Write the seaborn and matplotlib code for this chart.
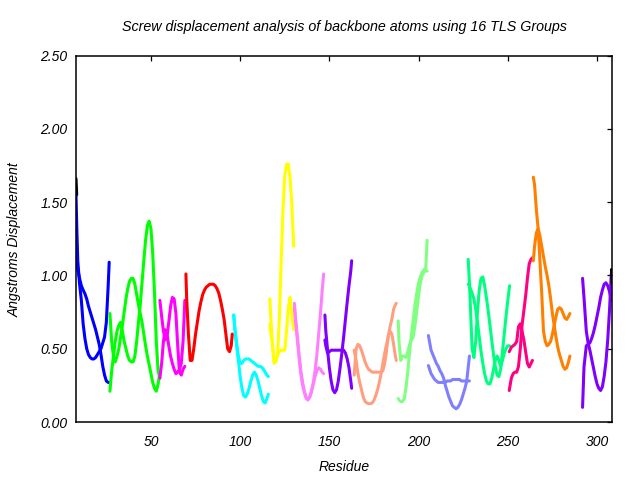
import numpy as np
import pandas as pd
import matplotlib
matplotlib.use("Agg")
import matplotlib.pyplot as plt
import seaborn as sns

# ---------------- data ----------------
title = "Screw displacement analysis of backbone atoms using 16 TLS Groups"
xlabel = "Residue"
ylabel = "Angstroms Displacement"
xticks = [50, 100, 150, 200, 250, 300]
yticks = [0.0, 0.5, 1.0, 1.5, 2.0, 2.5]

blk1_res = [8.0, 8.4]
blk1_a = [1.66, 1.55]
blk1_b = [1.17, 1.12]

blue_res = [8, 8.5, 9, 10, 11, 12, 13, 14, 15, 16, 17, 18, 19, 20, 21, 22, 23, 24, 25, 26, 26.6]
blue_a = [1.55, 1.30, 1.10, 0.94, 0.83, 0.67, 0.57, 0.50, 0.46, 0.44, 0.43, 0.43, 0.44, 0.46, 0.48, 0.50, 0.54, 0.58, 0.68, 0.92, 1.09]
blue_b = [1.15, 1.10, 1.04, 0.98, 0.93, 0.90, 0.875, 0.84, 0.79, 0.75, 0.71, 0.67, 0.63, 0.58, 0.53, 0.46, 0.38, 0.32, 0.28, 0.27, 0.27]

green_res = list(range(27, 56))
green_a = [0.74, 0.55, 0.45, 0.41, 0.45, 0.50, 0.58, 0.66, 0.75, 0.84, 0.91, 0.96, 0.98, 0.98, 0.94,
           0.87, 0.80, 0.74, 0.68, 0.60, 0.52, 0.45, 0.39, 0.33, 0.27, 0.23, 0.21, 0.26, 0.33]
green_b = [0.21, 0.35, 0.45, 0.55, 0.62, 0.66, 0.68, 0.62, 0.55, 0.50, 0.45, 0.42, 0.41, 0.41, 0.45,
           0.55, 0.68, 0.80, 0.95, 1.10, 1.24, 1.34, 1.37, 1.32, 1.15, 0.88, 0.55, 0.35, 0.30]

mag_res = [55, 56, 57, 58, 59, 60, 61, 62, 63, 64, 65, 66, 67, 68, 69]
mag_a = [0.83, 0.72, 0.62, 0.56, 0.58, 0.68, 0.79, 0.85, 0.84, 0.74, 0.52, 0.34, 0.32, 0.36, 0.38]
mag_b = [0.30, 0.40, 0.55, 0.63, 0.60, 0.52, 0.45, 0.40, 0.36, 0.33, 0.34, 0.36, 0.40, 0.55, 0.83]

red_res = [69.6] + list(range(70, 96)) + [95.6]
red_a = [1.01, 0.85, 0.60, 0.42, 0.42, 0.50, 0.60, 0.68, 0.76, 0.82, 0.87, 0.90, 0.92, 0.93, 0.94,
         0.94, 0.94, 0.93, 0.91, 0.88, 0.83, 0.77, 0.70, 0.60, 0.50, 0.48, 0.52, 0.60]

cyan_res = [96.4] + list(range(97, 116)) + [115.8]
cyan_a = [0.73, 0.64, 0.54, 0.45, 0.40, 0.40, 0.42, 0.43, 0.43, 0.43, 0.42, 0.41, 0.40, 0.39, 0.38,
          0.38, 0.375, 0.36, 0.34, 0.32, 0.31]
cyan_b = [0.73, 0.64, 0.52, 0.42, 0.31, 0.23, 0.18, 0.17, 0.19, 0.23, 0.28, 0.32, 0.34, 0.32, 0.28,
          0.23, 0.18, 0.14, 0.13, 0.16, 0.19]

yel_res = [116.7, 117, 118, 119, 120, 121, 122, 123, 124, 125, 126, 127, 128, 129, 130]
yel_a = [0.84, 0.75, 0.55, 0.42, 0.41, 0.46, 0.72, 1.10, 1.45, 1.68, 1.76, 1.76, 1.66, 1.48, 1.20]
yel_b = [0.67, 0.62, 0.54, 0.40, 0.43, 0.46, 0.48, 0.49, 0.49, 0.49, 0.62, 0.78, 0.85, 0.72, 0.63]

pink_res = [130.4, 131, 132, 133, 134, 135, 136, 137, 138, 139, 140, 141, 142, 143, 144, 145, 146, 146.8]
pink_a = [0.81, 0.72, 0.59, 0.46, 0.35, 0.27, 0.21, 0.17, 0.16, 0.17, 0.21, 0.27, 0.35, 0.46, 0.60, 0.74, 0.90, 1.01]
pink_b = [0.78, 0.69, 0.57, 0.44, 0.33, 0.25, 0.20, 0.16, 0.15, 0.17, 0.21, 0.26, 0.31, 0.35, 0.37, 0.36, 0.34, 0.33]

purp_res = [147.5, 148, 149, 150, 151, 152, 153, 154, 155, 156, 157, 158, 159, 160, 161, 162, 162.5]
purp_a = [0.73, 0.62, 0.49, 0.37, 0.28, 0.22, 0.20, 0.22, 0.28, 0.37, 0.47, 0.58, 0.70, 0.82, 0.93, 1.03, 1.10]
purp_b = [0.56, 0.52, 0.47, 0.48, 0.49, 0.49, 0.49, 0.49, 0.49, 0.49, 0.49, 0.49, 0.47, 0.43, 0.37, 0.28, 0.23]

salm_res = [163.9] + list(range(165, 188)) + [187.5]
salm_a = [0.32, 0.50, 0.53, 0.52, 0.49, 0.45, 0.41, 0.38, 0.36, 0.35, 0.34, 0.34, 0.34, 0.34, 0.34,
          0.34, 0.35, 0.40, 0.48, 0.59, 0.62, 0.60, 0.53, 0.45, 0.42]
salm_b = [0.49, 0.42, 0.33, 0.27, 0.22, 0.17, 0.14, 0.13, 0.125, 0.125, 0.13, 0.15, 0.18, 0.22, 0.27,
          0.33, 0.40, 0.47, 0.53, 0.58, 0.65, 0.70, 0.77, 0.80, 0.81]

lgrn_res = [188.6, 189, 190, 191, 192, 193, 194, 195, 196, 197, 198, 199, 200, 201, 202, 203, 204, 204.8]
lgrn_a = [0.69, 0.55, 0.42, 0.45, 0.45, 0.44, 0.48, 0.53, 0.56, 0.58, 0.66, 0.76, 0.86, 0.95, 1.00, 1.02, 1.05, 1.24]
lgrn_b = [0.16, 0.15, 0.14, 0.14, 0.16, 0.24, 0.35, 0.48, 0.60, 0.70, 0.80, 0.88, 0.95, 0.99, 1.02, 1.04, 1.03, 1.03]

peri_res = [205.5] + list(range(207, 228)) + [228.5]
peri_a = [0.59, 0.49, 0.46, 0.43, 0.40, 0.38, 0.35, 0.33, 0.30, 0.25, 0.21, 0.17, 0.14, 0.11, 0.10,
          0.09, 0.10, 0.12, 0.15, 0.19, 0.23, 0.28, 0.45]
peri_b = [0.385, 0.33, 0.31, 0.29, 0.28, 0.27, 0.27, 0.27, 0.27, 0.27, 0.28, 0.28, 0.28, 0.29, 0.29,
          0.29, 0.29, 0.29, 0.28, 0.28, 0.28, 0.28, 0.28]

sprg_res = [227.8, 228.5] + list(range(229, 252))
sprg_a = [1.11, 0.95, 0.80, 0.50, 0.44, 0.55, 0.75, 0.90, 0.98, 0.99, 0.93, 0.85, 0.76, 0.66, 0.56,
          0.46, 0.38, 0.32, 0.31, 0.36, 0.48, 0.60, 0.72, 0.83, 0.93]
sprg_b = [0.94, 0.93, 0.91, 0.88, 0.84, 0.77, 0.68, 0.58, 0.48, 0.40, 0.33, 0.28, 0.26, 0.26, 0.30,
          0.36, 0.42, 0.45, 0.42, 0.38, 0.42, 0.47, 0.50, 0.52, 0.52]

dpnk_res = [250.8, 252, 253, 254, 255, 256, 257, 258, 259, 260, 261, 262, 263, 263.8]
dpnk_a = [0.215, 0.30, 0.33, 0.34, 0.34, 0.38, 0.50, 0.66, 0.76, 0.86, 0.98, 1.08, 1.11, 1.12]
dpnk_b = [0.48, 0.51, 0.52, 0.53, 0.55, 0.65, 0.67, 0.62, 0.56, 0.48, 0.40, 0.375, 0.40, 0.42]

orng_res = [264.3] + list(range(265, 285)) + [284.8]
orng_a = [1.67, 1.62, 1.45, 1.32, 1.10, 0.88, 0.62, 0.55, 0.52, 0.53, 0.55, 0.60, 0.66, 0.72, 0.77,
          0.78, 0.77, 0.74, 0.71, 0.70, 0.72, 0.74]
orng_b = [1.10, 1.20, 1.29, 1.32, 1.27, 1.20, 1.13, 1.06, 1.00, 0.93, 0.84, 0.74, 0.66, 0.58, 0.51,
          0.46, 0.42, 0.38, 0.36, 0.37, 0.41, 0.45]

viol_res = [291.9, 292.7, 294, 295, 296, 297, 298, 299, 300, 301, 302, 303, 304, 305, 306, 307, 308]
viol_a = [0.98, 0.85, 0.62, 0.54, 0.49, 0.43, 0.37, 0.31, 0.26, 0.23, 0.215, 0.24, 0.31, 0.41, 0.56, 0.76, 1.01]
viol_b = [0.10, 0.375, 0.52, 0.53, 0.54, 0.57, 0.61, 0.66, 0.72, 0.78, 0.85, 0.90, 0.94, 0.95, 0.93, 0.89, 0.83]

blk2_res = [308.1, 308.5]
blk2_a = [1.04, 0.94]

group_names = ["g01", "g02", "g03", "g04", "g05", "g06", "g07", "g08",
               "g09", "g10", "g11", "g12", "g13", "g14", "g15", "g16", "g17"]
group_colors = ["#000000", "#0000ff", "#00ff00", "#ff00ff", "#ff0000", "#00ffff",
                "#ffff00", "#ff80ff", "#8000ff", "#ff9f80", "#80ff80", "#8080ff",
                "#00ff80", "#ff0080", "#ff8000", "#8000ff", "#000000"]

# ---------------- build long table ----------------
groups = [
    (blk1_res, [blk1_a, blk1_b]),
    (blue_res, [blue_a, blue_b]),
    (green_res, [green_a, green_b]),
    (mag_res, [mag_a, mag_b]),
    (red_res, [red_a]),
    (cyan_res, [cyan_a, cyan_b]),
    (yel_res, [yel_a, yel_b]),
    (pink_res, [pink_a, pink_b]),
    (purp_res, [purp_a, purp_b]),
    (salm_res, [salm_a, salm_b]),
    (lgrn_res, [lgrn_a, lgrn_b]),
    (peri_res, [peri_a, peri_b]),
    (sprg_res, [sprg_a, sprg_b]),
    (dpnk_res, [dpnk_a, dpnk_b]),
    (orng_res, [orng_a, orng_b]),
    (viol_res, [viol_a, viol_b]),
    (blk2_res, [blk2_a]),
]
rows = []
for gname, (res, curves) in zip(group_names, groups):
    for ci, vals in enumerate(curves):
        for order, (r, v) in enumerate(zip(res, vals)):
            rows.append({"Residue": r, "Disp": v, "group": gname,
                         "curve": f"{gname}_{ci}", "order": order})
df = pd.DataFrame(rows)

# ---------------- plot ----------------
sns.set_style("white")
plt.rcParams["font.family"] = ["Liberation Sans", "DejaVu Sans"]
plt.rcParams["font.style"] = "italic"
plt.rcParams["text.color"] = "black"

fig = plt.figure(figsize=(6.4, 4.8), dpi=100)
ax = fig.add_axes([76 / 640, 1 - 422 / 480, (612 - 76) / 640, (422 - 55.6) / 480])

sns.lineplot(data=df, x="Residue", y="Disp", hue="group", units="curve",
             estimator=None, sort=False, palette=dict(zip(group_names, group_colors)),
             linewidth=2.2, legend=False, ax=ax)

ax.set_xlim(8, 308.4)
ax.set_ylim(0, 2.5)
ax.set_xticks(xticks)
ax.set_yticks(yticks)
ax.set_yticklabels([f"{t:.2f}" for t in yticks])
ax.set_xlabel("")
ax.set_ylabel("")
for s in ax.spines.values():
    s.set_visible(True)
    s.set_color("black")
    s.set_linewidth(1.1)
ax.tick_params(direction="in", length=3.5, width=0.9, top=True, right=True,
               labelsize=10, colors="black")
ax.tick_params(axis="y", pad=6)
ax.tick_params(axis="x", pad=9)

fig.text(344 / 640, 1 - 27 / 480, title, ha="center", va="center", fontsize=10.3, style="italic")
fig.text(344 / 640, 1 - 467 / 480, xlabel, ha="center", va="center", fontsize=10, style="italic")
fig.text(15 / 640, 1 - 240 / 480, ylabel, ha="center", va="center", rotation=90,
         fontsize=10, style="italic")

fig.savefig("out.png", dpi=100)
